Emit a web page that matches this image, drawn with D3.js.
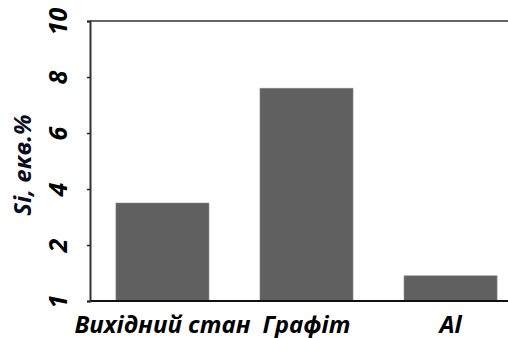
<!DOCTYPE html>
<html><head><meta charset="utf-8">
<script src="https://cdn.jsdelivr.net/npm/d3@7"></script>
<style>html,body{margin:0;padding:0;background:#fff;overflow:hidden}</style>
</head><body>
<svg id="c" width="508" height="338"></svg>
<script>
const categories = ["Вихідний стан", "Графіт", "Al"];
const values = [3.5, 7.6, 0.9];
const tickValues = [0, 2, 4, 6, 8, 10];
const tickLabels = ["1", "2", "4", "6", "8", "10"];
const yTitle = "Si, екв.%";

(function () {
const svg = d3.select("#c");
const mL = 90, mT = 21, mB = 301, mR = 510;
const font = "'Open Sans', sans-serif";

const x = d3.scaleBand().domain(categories).range([mL, 523])
  .paddingInner(0.354).paddingOuter(0.18);
const y = d3.scaleLinear().domain([0, 10]).range([mB, mT]);

// bars
svg.append("g").selectAll("rect").data(values).join("rect")
  .attr("x", (d, i) => x(categories[i]))
  .attr("width", x.bandwidth())
  .attr("y", d => y(d))
  .attr("height", d => y(0) - y(d))
  .attr("fill", "#606060")
  .attr("stroke", "#8a8a8a").attr("stroke-width", 0.6);

// frame top and bottom
svg.append("line").attr("x1", mL).attr("x2", mR).attr("y1", mT).attr("y2", mT)
  .attr("stroke", "#333").attr("stroke-width", 1.6);
svg.append("line").attr("x1", mL).attr("x2", mR).attr("y1", mB).attr("y2", mB)
  .attr("stroke", "#111").attr("stroke-width", 2);

// left axis
const yAxis = d3.axisLeft(y).tickValues(tickValues).tickSize(3)
  .tickFormat((d, i) => tickLabels[i]);
const ga = svg.append("g").attr("transform", `translate(${mL},0)`).call(yAxis);
ga.select(".domain").attr("stroke", "#333").attr("stroke-width", 2);
ga.selectAll(".tick line").attr("stroke", "#222").attr("stroke-width", 1.5);
ga.selectAll(".tick text")
  .attr("x", null).attr("dy", null)
  .attr("transform", "translate(-23,0) rotate(-90)")
  .attr("text-anchor", "middle")
  .attr("font-family", font).attr("font-weight", "bold").attr("font-style", "italic")
  .attr("font-size", 25).attr("fill", "#000");

// y title
svg.append("text").text(yTitle)
  .attr("transform", "translate(31,165) rotate(-90)")
  .attr("text-anchor", "middle")
  .attr("font-family", font).attr("font-weight", "bold").attr("font-style", "italic")
  .attr("font-size", 24).attr("fill", "#0a0a20");

// x labels
const xAxis = d3.axisBottom(x).tickSize(0);
const gx = svg.append("g").attr("transform", `translate(0,${mB})`).call(xAxis);
gx.select(".domain").remove();
gx.selectAll(".tick text")
  .attr("y", 32).attr("dy", null)
  .attr("font-family", font).attr("font-weight", "bold").attr("font-style", "italic")
  .attr("font-size", 24).attr("fill", "#000");
})();
</script>
</body></html>
